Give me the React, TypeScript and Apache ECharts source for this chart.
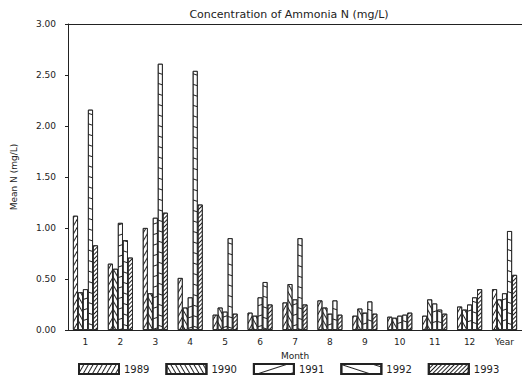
import React, { useEffect, useRef } from "react";
import * as echarts from "echarts";

const categories = ["1", "2", "3", "4", "5", "6", "7", "8", "9", "10", "11", "12", "Year"];
const years = ["1989", "1990", "1991", "1992", "1993"];
const v1989 = [1.12, 0.65, 1.0, 0.51, 0.15, 0.17, 0.27, 0.29, 0.14, 0.13, 0.14, 0.23, 0.4];
const v1990 = [0.37, 0.6, 0.36, 0.22, 0.22, 0.14, 0.45, 0.22, 0.21, 0.12, 0.3, 0.2, 0.3];
const v1991 = [0.4, 1.05, 1.1, 0.32, 0.18, 0.32, 0.3, 0.16, 0.17, 0.14, 0.26, 0.25, 0.36];
const v1992 = [2.16, 0.88, 2.61, 2.54, 0.9, 0.47, 0.9, 0.29, 0.28, 0.15, 0.2, 0.32, 0.97];
const v1993 = [0.83, 0.71, 1.15, 1.23, 0.16, 0.25, 0.25, 0.15, 0.16, 0.17, 0.16, 0.4, 0.54];
const seriesValues = [v1989, v1990, v1991, v1992, v1993];

const FONT = "DejaVu Sans";
const INK = "#222";

const decals = [
  { symbol: "rect", symbolSize: 1, dashArrayX: [1, 0], dashArrayY: [1, 3], rotation: -Math.PI / 3, color: INK, backgroundColor: "#fff" },
  { symbol: "rect", symbolSize: 1, dashArrayX: [1, 0], dashArrayY: [1, 3], rotation: Math.PI / 3, color: INK, backgroundColor: "#fff" },
  { symbol: "rect", symbolSize: 1, dashArrayX: [1, 0], dashArrayY: [1, 9], rotation: -Math.PI / 10, color: INK, backgroundColor: "#fff" },
  { symbol: "rect", symbolSize: 1, dashArrayX: [1, 0], dashArrayY: [1, 9], rotation: Math.PI / 10, color: INK, backgroundColor: "#fff" },
  { symbol: "rect", symbolSize: 1, dashArrayX: [1, 0], dashArrayY: [1, 1.5], rotation: -Math.PI / 4, color: INK, backgroundColor: "#fff" },
];

export default function App() {
  const ref = useRef<HTMLDivElement>(null);
  useEffect(() => {
    if (!ref.current) return;
    const chart = echarts.init(ref.current, undefined, { renderer: "svg" });
    chart.setOption({
      animation: false,
      backgroundColor: "#fff",
      textStyle: { fontFamily: FONT, color: INK },
      title: {
        text: "Concentration of Ammonia N (mg/L)",
        left: 284,
        textAlign: "center",
        top: 4,
        textStyle: { fontFamily: FONT, fontSize: 11, fontWeight: "normal", color: INK },
      },
      legend: {
        bottom: 2,
        left: 73,
        icon: "rect",
        itemWidth: 40,
        itemHeight: 10,
        itemGap: 16,
        textStyle: { fontFamily: FONT, fontSize: 10, color: INK },
        data: years,
      },
      grid: { left: 68, right: 0, top: 24, bottom: 52, containLabel: false },
      xAxis: [
        {
          type: "category",
          data: categories,
          name: "Month",
          nameLocation: "middle",
          nameGap: 21,
          nameTextStyle: { fontFamily: FONT, fontSize: 9, color: INK },
          axisLine: { lineStyle: { color: INK, width: 1 } },
          axisTick: { alignWithLabel: true, length: 3, lineStyle: { color: INK } },
          axisLabel: { fontFamily: FONT, fontSize: 9, color: INK, margin: 7 },
        },
        {
          type: "category",
          data: categories,
          position: "top",
          axisLine: { show: true, lineStyle: { color: INK, width: 1 } },
          axisTick: { show: false },
          axisLabel: { show: false },
        },
      ],
      yAxis: {
        type: "value",
        min: 0,
        max: 3,
        interval: 0.5,
        name: "Mean N (mg/L)",
        nameLocation: "middle",
        nameGap: 50,
        nameTextStyle: { fontFamily: FONT, fontSize: 9, color: INK },
        axisLine: { show: true, lineStyle: { color: INK, width: 1 } },
        axisTick: { show: true, length: 3, lineStyle: { color: INK } },
        splitLine: { show: false },
        axisLabel: {
          fontFamily: FONT,
          fontSize: 9,
          color: INK,
          margin: 12,
          formatter: (v: number) => v.toFixed(2),
        },
      },
      series: years.map((y, i) => ({
        name: y,
        type: "bar",
        data: seriesValues[i],
        barWidth: 5,
        barGap: "0%",
        itemStyle: {
          color: "#fff",
          borderColor: INK,
          borderWidth: 0.8,
          decal: decals[i],
        },
      })),
    });
    return () => chart.dispose();
  }, []);
  return (
    <div
      ref={ref}
      style={{ position: "absolute", left: 0, top: 0, width: 522, height: 382 }}
    />
  );
}
